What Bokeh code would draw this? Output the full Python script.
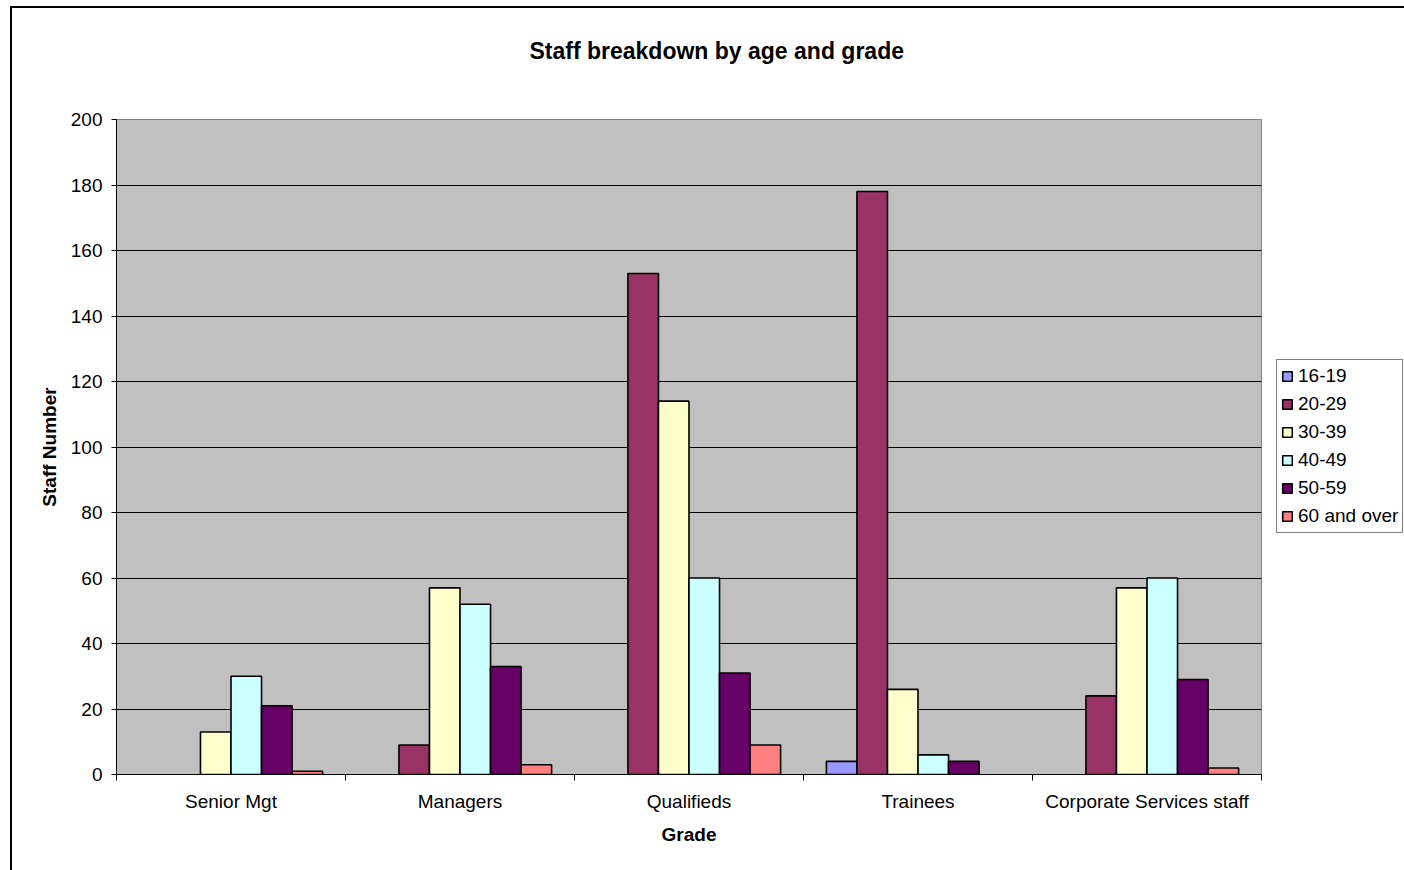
from bokeh.plotting import figure
from bokeh.models import (Range1d, FixedTicker, ColumnDataSource, Legend, LegendItem,
                          Title, CDSView, BooleanFilter)
from bokeh.transform import dodge
from bokeh.embed import file_html
from bokeh.resources import INLINE

# Staff counts per grade, one list per age band
grades = ["Senior Mgt", "Managers", "Qualifieds", "Trainees", "Corporate Services staff"]
age_bands = ["16-19", "20-29", "30-39", "40-49", "50-59", "60 and over"]
age_16_19 = [0, 0, 0, 4, 0]
age_20_29 = [0, 9, 153, 178, 24]
age_30_39 = [13, 57, 114, 26, 57]
age_40_49 = [30, 52, 60, 6, 60]
age_50_59 = [21, 33, 31, 4, 29]
age_60_over = [1, 3, 9, 0, 2]
band_colors = ["#9999FF", "#993366", "#FFFFCC", "#CCFFFF", "#660066", "#FF8080"]
y_ticks = list(range(0, 201, 20))

series = [age_16_19, age_20_29, age_30_39, age_40_49, age_50_59, age_60_over]
FONT = "Liberation Sans"

p = figure(width=1392, height=862, frame_width=1145, frame_height=655,
           min_border_left=104, min_border_right=143, min_border_top=111, min_border_bottom=96,
           x_range=Range1d(0, len(grades)), y_range=Range1d(0, 200),
           output_backend="svg", toolbar_location=None, tools="",
           margin=(6, 0, 0, 10))
p.styles = {"border-left": "2px solid black", "border-top": "2px solid black"}

p.background_fill_color = "#C0C0C0"
p.border_fill_color = "white"
p.outline_line_color = "#808080"
p.outline_line_width = 1

# group of six bars per grade; empty cells draw nothing
group_width = 0.8
bar_w = group_width / len(age_bands)
items = []
for j, (band, vals, col) in enumerate(zip(age_bands, series, band_colors)):
    src = ColumnDataSource(dict(pos=[i + 0.5 for i in range(len(grades))], count=vals))
    view = CDSView(filter=BooleanFilter([v > 0 for v in vals]))
    off = (j - (len(age_bands) - 1) / 2) * bar_w
    r = p.vbar(x=dodge("pos", off, range=p.x_range), top="count", bottom=0, width=bar_w,
               source=src, view=view, fill_color=col, line_color="black", line_width=1.6)
    items.append(LegendItem(label=band, renderers=[r]))

# grid
p.xgrid.visible = False
p.ygrid.grid_line_color = "black"
p.ygrid.grid_line_width = 1
p.ygrid.ticker = FixedTicker(ticks=y_ticks)

# y axis
ya = p.yaxis[0]
ya.ticker = FixedTicker(ticks=y_ticks)
ya.axis_line_color = "black"
ya.major_tick_line_color = "black"
ya.major_tick_out = 5
ya.major_tick_in = 0
ya.minor_tick_line_color = None
ya.major_label_text_font = FONT
ya.major_label_text_font_size = "19px"
ya.major_label_text_color = "black"
ya.major_label_standoff = 9
ya.axis_label = "Staff Number"
ya.axis_label_text_font = FONT
ya.axis_label_text_font_style = "bold"
ya.axis_label_text_font_size = "19px"
ya.axis_label_text_color = "black"
ya.axis_label_standoff = 8

# x axis: labels centred under each group, ticks on group boundaries
xa = p.xaxis[0]
xa.ticker = FixedTicker(ticks=[i + 0.5 for i in range(len(grades))],
                        minor_ticks=list(range(len(grades) + 1)))
xa.major_label_overrides = {i + 0.5: g for i, g in enumerate(grades)}
xa.axis_line_color = "black"
xa.major_tick_line_color = None
xa.major_tick_out = 0
xa.major_tick_in = 0
xa.minor_tick_line_color = "black"
xa.minor_tick_out = 6
xa.minor_tick_in = 0
xa.major_label_text_font = FONT
xa.major_label_text_font_size = "19px"
xa.major_label_text_color = "black"
xa.major_label_standoff = 10
xa.axis_label = "Grade"
xa.axis_label_text_font = FONT
xa.axis_label_text_font_style = "bold"
xa.axis_label_text_font_size = "19px"
xa.axis_label_text_color = "black"
xa.axis_label_standoff = 9

# legend to the right of the plot area
legend = Legend(items=items, location=(15, 241),
                label_text_font=FONT, label_text_font_size="19px", label_text_color="black",
                glyph_width=12, glyph_height=12, label_standoff=5,
                label_height=24, spacing=4, padding=4, margin=0,
                border_line_color="black", border_line_width=1,
                background_fill_color="white", background_fill_alpha=1)
p.add_layout(legend, "right")

# gap between the plot area and the chart title
gap = Title(text=" ", text_font_size="1px", standoff=53)
p.add_layout(gap, "above")

# chart title
title = Title(text="Staff breakdown by age and grade", text_font=FONT,
              text_font_style="bold", text_font_size="23px", text_color="black",
              align="left", offset=413, standoff=0)
p.add_layout(title, "above")

open("out.html", "w").write(file_html(p, INLINE))
